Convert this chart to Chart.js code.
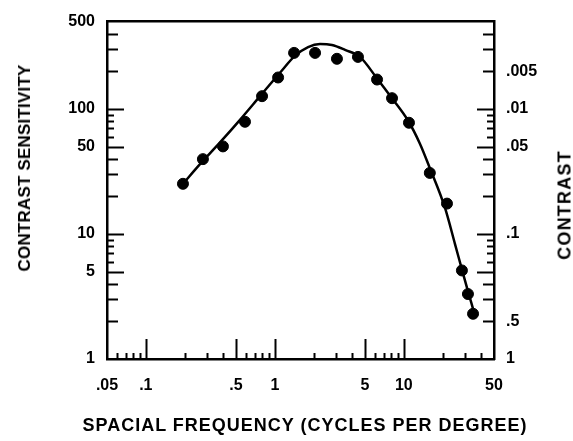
<!DOCTYPE html>
<html>
<head>
<meta charset="utf-8">
<script src="https://cdn.jsdelivr.net/npm/chart.js@4/dist/chart.umd.min.js"></script>
<style>
  body { margin: 0; background: #fff; }
  #wrap { position: relative; width: 573px; height: 441px; }
  .title {
    position: absolute;
    font-family: "Liberation Sans", Arial, sans-serif;
    font-weight: bold;
    color: #000;
    white-space: nowrap;
  }
  #yTitle { left: 25px; top: 168px; font-size: 17px; letter-spacing: 0.2px; transform: translate(-50%, -50%) rotate(-90deg); }
  #y2Title { left: 565px; top: 205px; font-size: 18px; letter-spacing: 1.2px; transform: translate(-50%, -50%) rotate(-90deg); }
  #xTitle { left: 305px; top: 425px; font-size: 18px; letter-spacing: 1px; transform: translate(-50%, -50%); }
</style>
</head>
<body>
<div id="wrap">
  <canvas id="csfChart"></canvas>
  <div class="title" id="yTitle">CONTRAST SENSITIVITY</div>
  <div class="title" id="y2Title">CONTRAST</div>
  <div class="title" id="xTitle">SPACIAL FREQUENCY (CYCLES PER DEGREE)</div>
</div>
<script>
// measured points (cycles/degree, contrast sensitivity)
const frequencies = [0.194, 0.277, 0.396, 0.587, 0.796, 1.06, 1.41, 2.05, 3.03, 4.41, 6.2, 8.1, 10.96, 15.9, 21.6, 28.2, 31.4, 34.4];
const sensitivities = [25.2, 39.7, 50.2, 79, 126.6, 178.6, 281, 281, 252, 261, 172, 122, 77.6, 30.8, 17.5, 5.11, 3.31, 2.30];

// fitted curve
const fitFrequencies = [0.194, 0.263, 0.376, 0.537, 0.768, 1.10, 1.43, 1.81, 2.24, 2.77, 3.50, 4.57, 6.20, 8.09, 10.8, 13.3, 15.9, 20.8, 24.9, 28.2, 31.4, 34.4];
const fitSensitivities = [25.2, 36.2, 54.0, 81.9, 126.6, 195.6, 266, 313, 331, 325, 297, 261, 175.5, 122, 80.5, 53, 33.7, 16.3, 8.34, 5.21, 3.49, 2.52];

// tick labels
const xTickValues = [0.05, 0.1, 0.5, 1, 5, 10, 50];
const xTickLabels = ['.05', '.1', '.5', '1', '5', '10', '50'];
const yTickValues = [1, 5, 10, 50, 100, 500];
const yTickLabels = ['1', '5', '10', '50', '100', '500'];
const contrastTickValues = [1, 2, 10, 50, 100, 200];
const contrastTickLabels = ['1', '.5', '.1', '.05', '.01', '.005'];

// inward tick marks along the frame
const yMajorMarks = [5, 10, 50, 100];
const yMinorMarks = [2, 3, 4, 20, 30, 40, 200, 300, 400];
const yFineMarks = [6, 7, 8, 9, 60, 70, 80, 90];
const xMajorMarks = [0.1, 0.5, 1, 5, 10];
const xMinorMarks = [0.06, 0.07, 0.08, 0.09, 0.2, 0.3, 0.4, 0.6, 0.7, 0.8, 0.9, 2, 3, 4, 6, 7, 8, 9, 20, 30, 40];

const FONT = { family: '"Liberation Sans", Arial, sans-serif', size: 16, weight: 'bold' };

function labelFor(values, labels) {
    return v => {
        const i = values.findIndex(t => Math.abs(t - v) / t < 1e-6);
        return i < 0 ? '' : labels[i];
    };
}

function fixedTicks(values) {
    return scale => { scale.ticks = values.map(v => ({ value: v })); };
}

const inwardTicks = {
    id: 'inwardTicks',
    afterDraw(chart) {
        const { ctx, chartArea: a, scales } = chart;
        ctx.save();
        ctx.strokeStyle = '#000';
        ctx.lineWidth = 2;
        const seg = (x1, y1, x2, y2) => {
            ctx.beginPath(); ctx.moveTo(x1, y1); ctx.lineTo(x2, y2); ctx.stroke();
        };
        const yMarks = (list, len) => list.forEach(v => {
            const py = Math.round(scales.y.getPixelForValue(v)) + 0.5;
            seg(a.left, py, a.left + len, py);
            seg(a.right, py, a.right - len, py);
        });
        yMarks(yMajorMarks, 17);
        yMarks(yMinorMarks, 11);
        yMarks(yFineMarks, 7);
        const xMarks = (list, len) => list.forEach(v => {
            const px = Math.round(scales.x.getPixelForValue(v)) + 0.5;
            seg(px, a.bottom, px, a.bottom - len);
        });
        xMarks(xMajorMarks, 20);
        xMarks(xMinorMarks, 6);
        ctx.restore();
    }
};

const frameGrid = { drawOnChartArea: false, drawTicks: false, color: '#000' };
const frameBorder = { color: '#000', width: 2.5 };

new Chart(document.getElementById('csfChart'), {
    type: 'scatter',
    data: {
        datasets: [
            {
                label: 'fit',
                data: fitFrequencies.map((f, i) => ({ x: f, y: fitSensitivities[i] })),
                showLine: true,
                borderColor: '#000',
                borderWidth: 2.5,
                pointRadius: 0,
                cubicInterpolationMode: 'monotone',
                fill: false
            },
            {
                label: 'measured',
                data: frequencies.map((f, i) => ({ x: f, y: sensitivities[i] })),
                backgroundColor: '#000',
                borderColor: '#000',
                pointRadius: 5.5,
                pointHoverRadius: 5.5
            }
        ]
    },
    options: {
        responsive: true,
        maintainAspectRatio: false,
        animation: false,
        layout: { padding: 0 },
        plugins: { legend: { display: false }, tooltip: { enabled: false } },
        scales: {
            x: {
                type: 'logarithmic',
                position: 'bottom',
                min: 0.05,
                max: 50,
                afterBuildTicks: fixedTicks(xTickValues),
                afterFit: s => { s.height = 82; },
                ticks: { color: '#000', font: FONT, padding: 17, autoSkip: false, maxRotation: 0, callback: labelFor(xTickValues, xTickLabels) },
                grid: frameGrid,
                border: frameBorder
            },
            xTop: {
                type: 'logarithmic',
                position: 'top',
                min: 0.05,
                max: 50,
                afterFit: s => { s.height = 16; },
                ticks: { display: false },
                grid: frameGrid,
                border: frameBorder
            },
            y: {
                type: 'logarithmic',
                position: 'left',
                min: 1,
                max: 500,
                afterBuildTicks: fixedTicks(yTickValues),
                afterFit: s => { s.width = 107; },
                ticks: { color: '#000', font: FONT, padding: 12, autoSkip: false, callback: labelFor(yTickValues, yTickLabels) },
                grid: frameGrid,
                border: frameBorder
            },
            contrast: {
                type: 'logarithmic',
                position: 'right',
                min: 1,
                max: 500,
                afterBuildTicks: fixedTicks(contrastTickValues),
                afterFit: s => { s.width = 79; },
                ticks: { color: '#000', font: FONT, padding: 12, autoSkip: false, callback: labelFor(contrastTickValues, contrastTickLabels) },
                grid: frameGrid,
                border: frameBorder
            }
        }
    },
    plugins: [inwardTicks]
});
</script>
</body>
</html>
